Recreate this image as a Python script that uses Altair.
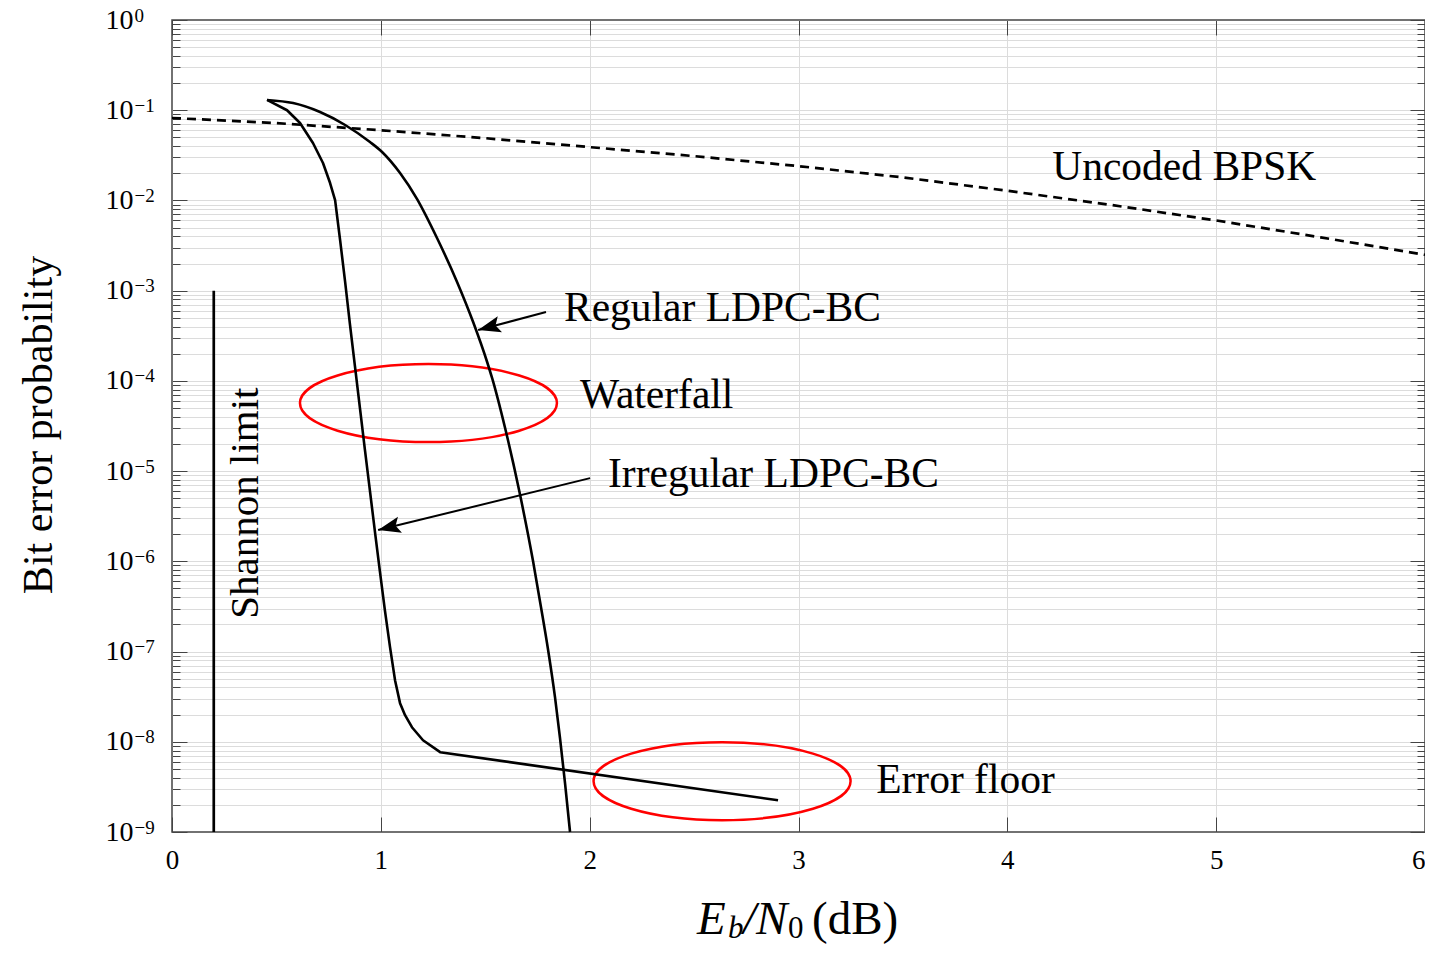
import altair as alt
import pandas as pd

# ---------------- data ----------------
# Uncoded BPSK (dashed)
bpsk_x = [0, 0.5, 1, 1.5, 2, 2.5, 3, 3.5, 4, 4.5, 5, 5.5, 6]
bpsk_y = [0.082, 0.072, 0.060, 0.049, 0.039, 0.031, 0.024, 0.018, 0.0128, 0.0089, 0.0060, 0.0039, 0.0025]

# Regular LDPC-BC
reg_x = [0.455, 0.580, 0.709, 0.829, 0.948, 1.006, 1.092, 1.173, 1.269, 1.365, 1.442, 1.509,
         1.533, 1.595, 1.667, 1.729, 1.767, 1.801, 1.834, 1.858, 1.882, 1.906]
reg_y = [1.30e-1, 1.20e-1, 9.55e-2, 6.86e-2, 4.44e-2, 3.44e-2, 2.01e-2, 1.04e-2, 3.83e-3, 1.25e-3,
         4.49e-4, 1.62e-4, 1.07e-4, 3.00e-5, 5.42e-6, 1.00e-6, 3.10e-7, 1.04e-7, 3.12e-8, 1.10e-8,
         3.48e-9, 1.0e-9]

# Irregular LDPC-BC
irr_x = [0.455, 0.551, 0.613, 0.675, 0.723, 0.757, 0.781, 0.805, 0.829, 0.852, 0.876, 0.900,
         0.924, 0.948, 0.972, 0.996, 1.020, 1.044, 1.068, 1.092, 1.116, 1.149, 1.202, 1.284, 2.902]
irr_y = [1.30e-1, 1.00e-1, 7.21e-2, 4.33e-2, 2.60e-2, 1.56e-2, 1.01e-2, 3.64e-3, 1.25e-3, 4.26e-4,
         1.46e-4, 4.99e-5, 1.71e-5, 6.00e-6, 2.11e-6, 7.59e-7, 2.81e-7, 1.12e-7, 4.82e-8, 2.68e-8,
         1.97e-8, 1.45e-8, 1.04e-8, 7.67e-9, 2.25e-9]

# Shannon limit
shannon_x = [0.2]
shannon_top = [1e-3]
shannon_bottom = [1e-9]

# Annotations
ann_text = ["Uncoded BPSK", "Regular LDPC-BC", "Waterfall", "Irregular LDPC-BC", "Error floor"]
ann_x = [4.215, 1.877, 1.954, 2.088, 3.372]
ann_y = [1.68e-2, 4.64e-4, 4.99e-5, 6.70e-6, 2.69e-9]

shannon_label = ["Shannon limit"]
shannon_label_x = [0.412]
shannon_label_y = [4.42e-6]

# Arrows (tail -> head)
arrow_tail_x = [1.791, 2.002]
arrow_tail_y = [5.79e-4, 8.36e-6]
arrow_head_x = [1.466, 0.987]
arrow_head_y = [3.66e-4, 2.22e-6]

# Ellipses (centres)
ell_x = [1.228, 2.634]
ell_y = [5.67e-5, 3.66e-9]

# Axis ticks
x_ticks = [0, 1, 2, 3, 4, 5, 6]
x_grid = [1, 2, 3, 4, 5]
y_exps = list(range(-9, 1))
y_major = [10.0 ** e for e in y_exps]
y_minor = [m * 10.0 ** e for e in range(-9, 0) for m in range(2, 10)]
y_grid = [10.0 ** e for e in range(-8, 0)] + y_minor

# ---------------- styling ----------------
W, H = 1253, 812
FONT = "Liberation Serif"
AX = "#444444"
GRID = "#dcdcdc"

xs = alt.Scale(domain=[0, 6], nice=False, zero=False)
ys = alt.Scale(type="log", domain=[1e-9, 1], nice=False)

EXP = "round(log(datum.value)/LN10)"
exp_expr = "(" + EXP + " < 0 ? '\u2212' : '') + abs(" + EXP + ")"


def tick_axis(values, orient, offset, size):
    return alt.Axis(values=values, orient=orient, offset=offset, ticks=True, tickSize=size,
                    tickColor=AX, tickWidth=1, labels=False, domain=False, grid=False, title=None)


ax_x_labels = alt.Axis(values=x_ticks, orient="bottom", grid=False, ticks=False, tickSize=0,
                       domain=False, labelFont=FONT, labelFontSize=27, labelColor="black",
                       labelPadding=15, labelFlush=False, title=None,
                       labelAlign={"condition": {"test": "datum.value >= 6", "value": "right"},
                                   "value": "center"})
ax_x_grid = alt.Axis(values=x_grid, orient="bottom", grid=True, gridColor=GRID, gridWidth=1,
                     ticks=False, labels=False, domain=False, title=None)
ax_x_in_bottom = tick_axis(x_ticks, "top", -H, 15)
ax_x_in_top = tick_axis(x_ticks, "bottom", -H, 15)

# "10" part of the y labels
ax_y_base = alt.Axis(values=y_major, orient="left", ticks=False, tickSize=0, labelExpr="'10'",
                     labelFont=FONT, labelFontSize=28, labelColor="black", labelPadding=39,
                     labelAlign="right", labelBaseline="middle",
                     labelFlush=False, domain=False, grid=False, title=None)
# exponent part of the y labels
ax_y_exp = alt.Axis(values=y_major, orient="left", ticks=False, tickSize=0, labelExpr=exp_expr,
                    labelFont=FONT, labelFontSize=19, labelColor="black", labelPadding=38,
                    labelAlign="left", labelBaseline="middle", labelOffset=-5,
                    labelFlush=False, domain=False, grid=False, title=None)
ax_y_grid = alt.Axis(values=y_grid, orient="left", grid=True, gridColor=GRID, gridWidth=1,
                     ticks=False, labels=False, domain=False, title=None)
ax_y_left_major = tick_axis(y_major, "right", -W, 15)
ax_y_left_minor = tick_axis(y_minor, "right", -W, 8)
ax_y_right_major = tick_axis(y_major, "left", -W, 15)
ax_y_right_minor = tick_axis(y_minor, "left", -W, 8)

# ---------------- layers ----------------
bpsk = alt.Chart(pd.DataFrame({"x": bpsk_x, "y": bpsk_y})).mark_line(
    color="black", strokeWidth=2.7, strokeDash=[9, 6]
).encode(
    x=alt.X("x:Q", scale=xs, axis=ax_x_labels),
    y=alt.Y("y:Q", scale=ys, axis=ax_y_base),
)

ell_path = "M-1,0A1,0.3035,0,1,1,1,0A1,0.3035,0,1,1,-1,0Z"
ellipses = alt.Chart(pd.DataFrame({"x": ell_x, "y": ell_y})).mark_point(
    shape=ell_path, size=66049, filled=False, stroke="#ff0000", strokeWidth=2.5, opacity=1
).encode(
    x=alt.X("x:Q", scale=xs, axis=None),
    y=alt.Y("y:Q", scale=ys, axis=ax_y_right_major),
)

reg = alt.Chart(pd.DataFrame({"x": reg_x, "y": reg_y})).mark_line(
    color="black", strokeWidth=2.6, interpolate="monotone"
).encode(
    x=alt.X("x:Q", scale=xs, axis=ax_x_in_bottom),
    y=alt.Y("y:Q", scale=ys, axis=ax_y_grid),
)

irr = alt.Chart(pd.DataFrame({"x": irr_x, "y": irr_y})).mark_line(
    color="black", strokeWidth=2.6, interpolate="linear", strokeJoin="round"
).encode(
    x=alt.X("x:Q", scale=xs, axis=ax_x_in_top),
    y=alt.Y("y:Q", scale=ys, axis=ax_y_left_major),
)

shannon = alt.Chart(pd.DataFrame({"x": shannon_x, "y1": shannon_top, "y2": shannon_bottom})).mark_rule(
    color="black", strokeWidth=2.7
).encode(
    x=alt.X("x:Q", scale=xs, axis=ax_x_grid),
    y=alt.Y("y1:Q", scale=ys, axis=ax_y_left_minor),
    y2="y2:Q",
)

arrow_df = pd.DataFrame({"x": arrow_tail_x, "y": arrow_tail_y, "x2": arrow_head_x, "y2": arrow_head_y})
arrow_lines = alt.Chart(arrow_df).mark_rule(color="black", strokeWidth=2).encode(
    x=alt.X("x:Q", scale=xs, axis=None),
    y=alt.Y("y:Q", scale=ys, axis=ax_y_right_minor),
    x2="x2:Q",
    y2="y2:Q",
)

head_path = "M0,0L0.55,1.5L0,1.2L-0.55,1.5Z"
head_angles = [255, 256]
heads = []
for i in range(2):
    heads.append(
        alt.Chart(pd.DataFrame({"x": [arrow_head_x[i]], "y": [arrow_head_y[i]]})).mark_point(
            shape=head_path, size=900, filled=True, color="black", opacity=1, angle=head_angles[i]
        ).encode(
            x=alt.X("x:Q", scale=xs, axis=None),
            y=alt.Y("y:Q", scale=ys, axis=None),
        )
    )

ann = alt.Chart(pd.DataFrame({"t": ann_text, "x": ann_x, "y": ann_y})).mark_text(
    font=FONT, fontSize=41.5, color="black", align="left", baseline="alphabetic"
).encode(
    x=alt.X("x:Q", scale=xs, axis=None),
    y=alt.Y("y:Q", scale=ys, axis=ax_y_exp),
    text="t:N",
)

shannon_txt = alt.Chart(pd.DataFrame({"t": shannon_label, "x": shannon_label_x, "y": shannon_label_y})).mark_text(
    font=FONT, fontSize=41, color="black", align="center", baseline="alphabetic", angle=270
).encode(
    x=alt.X("x:Q", scale=xs, axis=None),
    y=alt.Y("y:Q", scale=ys, axis=None),
    text="t:N",
)

one = pd.DataFrame({"k": [0]})


def title_piece(txt, px, py, size, italic):
    return alt.Chart(one).mark_text(
        text=txt, font=FONT, fontSize=size, color="black", align="left", baseline="alphabetic",
        fontStyle="italic" if italic else "normal"
    ).encode(x=alt.value(px), y=alt.value(py))


x_title = [
    title_piece("E", 525, 914, 47, True),
    title_piece("b", 556, 918, 31, True),
    title_piece("/N", 571, 914, 47, True),
    title_piece("0", 616, 918, 31, False),
    title_piece("(dB)", 640, 914, 47, False),
]

y_title = alt.Chart(one).mark_text(
    text="Bit error probability", font=FONT, fontSize=42, color="black",
    align="center", baseline="alphabetic", angle=270
).encode(x=alt.value(-120), y=alt.value(405))

chart = alt.layer(
    bpsk, ellipses, reg, irr, shannon, arrow_lines, *heads, ann, shannon_txt, *x_title, y_title
).resolve_axis(
    x="independent", y="independent"
).properties(
    width=W, height=H,
    autosize=alt.AutoSizeParams(type="none"),
    padding={"left": 164, "top": 12, "right": 0, "bottom": 113},
    background="white",
).configure_view(stroke=AX, strokeWidth=1.5)

chart.save("out.html", embed_options={"renderer": "svg", "actions": False})
